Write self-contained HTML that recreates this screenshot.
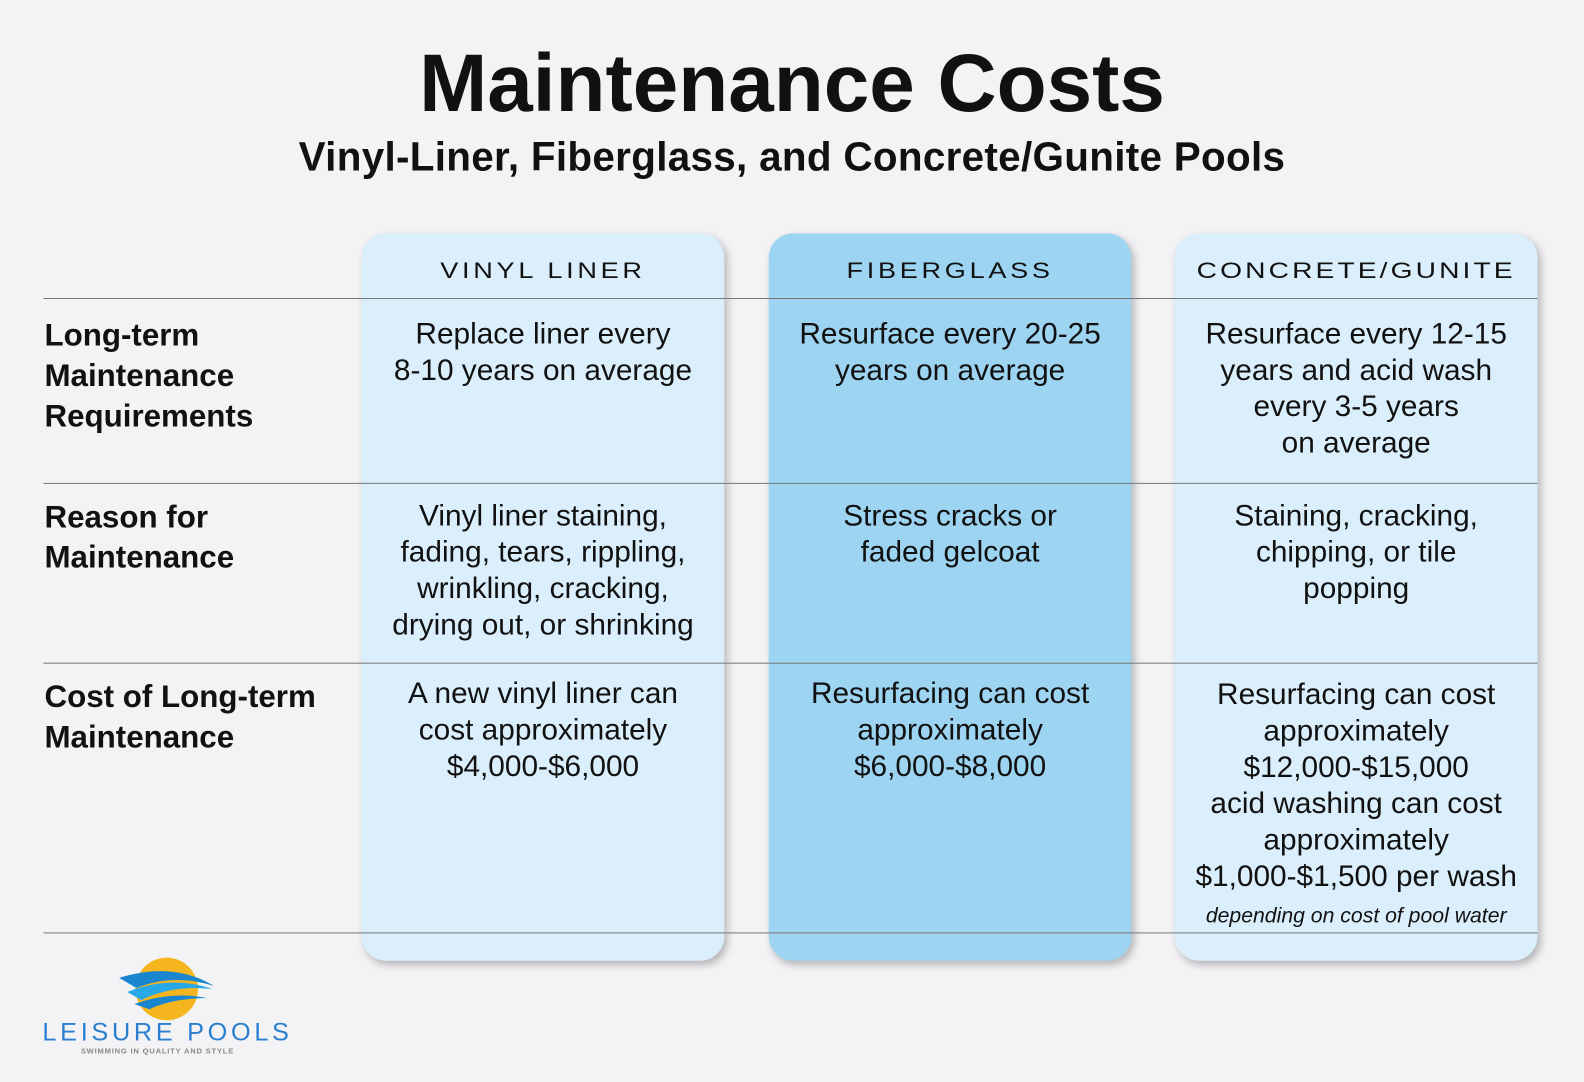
<!DOCTYPE html>
<html><head><meta charset="utf-8"><style>
body{margin:0;width:1584px;height:1082px;background:#f3f3f5;position:relative;overflow:hidden;font-family:"Liberation Sans",Arial,sans-serif;color:#111}
#wrap{position:absolute;left:0;top:0;width:1568px;height:1071px;transform:scale(1.0102);transform-origin:0 0}
.abs{position:absolute}
.title{left:0;width:1568px;top:38px;text-align:center;font-size:81px;font-weight:bold;letter-spacing:0px;line-height:90px}
.sub{left:0;width:1568px;top:132px;text-align:center;font-size:40px;font-weight:bold;line-height:48px;letter-spacing:0.3px}
.card{top:231px;height:720px;width:359px;border-radius:24px;box-shadow:3px 4px 8px rgba(0,0,0,0.25);background:#daeefb}
.card.fg{background:#9dd4f1}
.hd{top:255px;width:359px;text-align:center;font-size:22px;letter-spacing:3px;line-height:26px;transform:scaleX(1.22)}
.line{left:43px;width:1479px;height:1px;background:#777}
.lbl{left:44px;font-size:31px;line-height:40px;font-weight:bold}
.cell{width:359px;text-align:center;font-size:29.5px;line-height:36px}
</style></head><body><div id="wrap">
<div class="abs title">Maintenance Costs</div>
<div class="abs sub">Vinyl-Liner, Fiberglass, and Concrete/Gunite Pools</div>

<div class="abs card" style="left:358px"></div>
<div class="abs card fg" style="left:761px"></div>
<div class="abs card" style="left:1163px"></div>

<div class="abs hd" style="left:358px">VINYL LINER</div>
<div class="abs hd" style="left:761px">FIBERGLASS</div>
<div class="abs hd" style="left:1163px;letter-spacing:2.4px;transform:scaleX(1.27)">CONCRETE/GUNITE</div>

<div class="abs line" style="top:295px"></div>
<div class="abs line" style="top:478px"></div>
<div class="abs line" style="top:656px"></div>
<div class="abs line" style="top:923px"></div>

<div class="abs lbl" style="top:312px">Long-term<br>Maintenance<br>Requirements</div>
<div class="abs lbl" style="top:492px">Reason for<br>Maintenance</div>
<div class="abs lbl" style="top:670px">Cost of Long-term<br>Maintenance</div>

<div class="abs cell" style="left:358px;top:313px">Replace liner every<br>8-10 years on average</div>
<div class="abs cell" style="left:761px;top:313px">Resurface every 20-25<br>years on average</div>
<div class="abs cell" style="left:1163px;top:313px">Resurface every 12-15<br>years and acid wash<br>every 3-5 years<br>on average</div>

<div class="abs cell" style="left:358px;top:493px">Vinyl liner staining,<br>fading, tears, rippling,<br>wrinkling, cracking,<br>drying out, or shrinking</div>
<div class="abs cell" style="left:761px;top:493px">Stress cracks or<br>faded gelcoat</div>
<div class="abs cell" style="left:1163px;top:493px">Staining, cracking,<br>chipping, or tile<br>popping</div>

<div class="abs cell" style="left:358px;top:669px">A new vinyl liner can<br>cost approximately<br>$4,000-$6,000</div>
<div class="abs cell" style="left:761px;top:669px">Resurfacing can cost<br>approximately<br>$6,000-$8,000</div>
<div class="abs cell" style="left:1163px;top:670px">Resurfacing can cost<br>approximately<br>$12,000-$15,000<br>acid washing can cost<br>approximately<br>$1,000-$1,500 per wash<br><i style="font-size:21px;line-height:28px">depending on cost of pool water</i></div>

<div class="abs" style="left:40px;top:940px;width:260px;height:110px">
<svg width="260" height="110" viewBox="0 0 260 110">
<circle cx="125" cy="39" r="31" fill="#f5b51f"/>
<path d="M78 28 C110 18,142 18,172 36 C140 26,115 30,95 38 Z" fill="#1a86d0"/>
<path d="M86 42 C115 30,145 30,170 39 C140 36,118 41,100 50 Z" fill="#29a8e8"/>
<path d="M93 54 C120 44,145 44,165 48 C140 48,120 53,108 59 Z" fill="#1a86d0"/>
<text x="2" y="90" font-family="Liberation Sans,sans-serif" font-size="25" fill="#2a7fcf" letter-spacing="2" textLength="246">LEISURE POOLS</text>
<text x="40" y="103" font-family="Liberation Sans,sans-serif" font-size="7.5" fill="#888" font-weight="bold" letter-spacing="0.8">SWIMMING IN QUALITY AND STYLE</text>
</svg></div>
</div></body></html>
